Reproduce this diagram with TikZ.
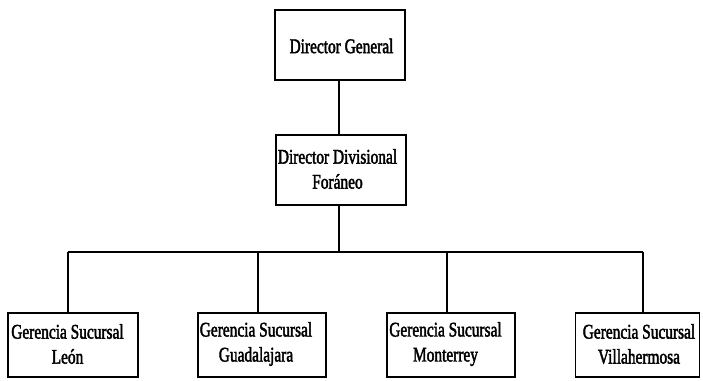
\documentclass[tikz,border=0pt]{standalone}
\usepackage{fontspec}
\setmainfont{Liberation Serif}[FakeStretch=0.74, FakeBold=2]
\begin{document}
\begin{tikzpicture}[x=1pt,y=1pt,
  box/.style={draw, line width=1.4pt, rectangle, minimum width=130pt, minimum height=#1, inner sep=0pt},
  box/.default=70pt,
  lbl/.style={align=center, inner sep=0pt, font=\fontsize{20.8}{25}\selectfont},
  wire/.style={line width=1.4pt}]
\useasboundingbox (0,0) rectangle (703,-380);
% top levels
\node[box] (dg) at (340,-45) {};
\node[lbl] (dgt) at (341.5,-46) {Director General};
\node[box] (dd) at (341,-170) {};
\node[lbl] (ddt) at (337.5,-169) {Director Divisional\\Foráneo};
% branch offices
\node[box=64pt, minimum width=130pt] (g1) at (73,-345) {};
\node[lbl] (g1t) at (67.5,-344) {Gerencia Sucursal\\León};
\node[box=64pt, minimum width=128pt] (g2) at (262,-345) {};
\node[lbl] (g2t) at (256,-344) {Gerencia Sucursal\\Guadalajara};
\node[box=64pt, minimum width=128pt] (g3) at (451,-345) {};
\node[lbl] (g3t) at (445.5,-344) {Gerencia Sucursal\\Monterrey};
\node[box=64pt, minimum width=124pt] (g4) at (637.5,-345) {};
\node[lbl] (g4t) at (639,-344) {Gerencia Sucursal\\Villahermosa};
% connectors
\coordinate (top) at (339,-80);
\coordinate (bus) at (339,-252);
\coordinate (d1) at (68,-252);
\coordinate (d2) at (258,-252);
\coordinate (d3) at (447,-252);
\coordinate (d4) at (643,-252);
\draw[wire] (top) -- (top |- dd.north);
\draw[wire] (bus |- dd.south) -- (bus);
\draw[wire] (d1) -- (d4);
\draw[wire] (d1) -- (d1 |- g1.north);
\draw[wire] (d2) -- (d2 |- g2.north);
\draw[wire] (d3) -- (d3 |- g3.north);
\draw[wire] (d4) -- (d4 |- g4.north);
\end{tikzpicture}
\end{document}
